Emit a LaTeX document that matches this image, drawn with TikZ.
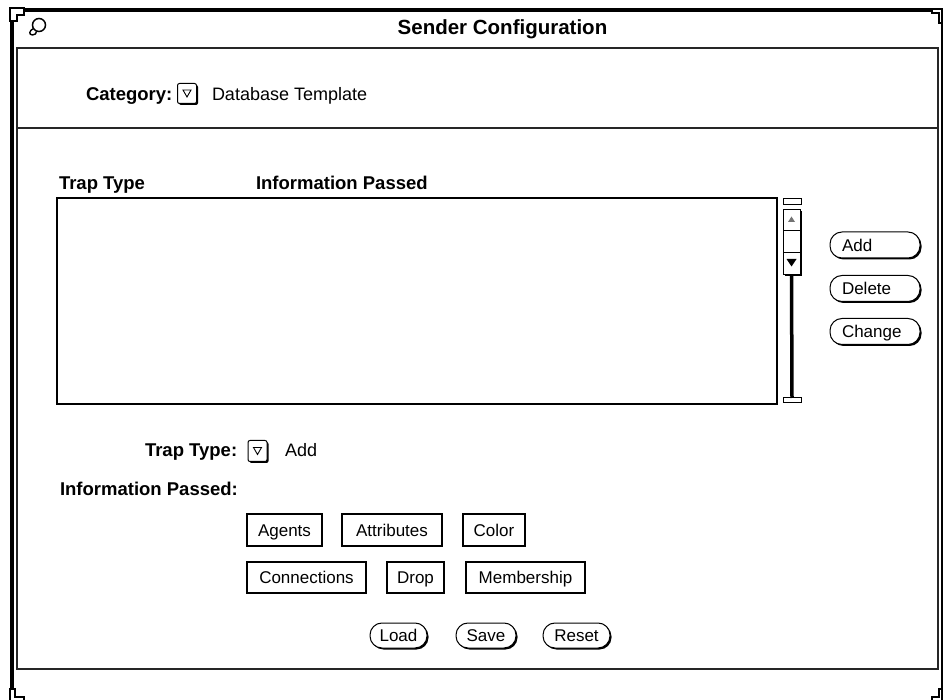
\documentclass[tikz,border=0pt]{standalone}
\usepackage{fontspec}
\setmainfont{Liberation Sans}
\usetikzlibrary{shadows,calc}

\begin{document}
\begin{tikzpicture}[x=1pt,y=-1pt,
  every node/.style={inner sep=0pt, outer sep=0pt},
  lbl/.style={anchor=base west, font=\fontsize{18.5}{20}\selectfont\bfseries},
  txt/.style={anchor=base west, font=\fontsize{18}{20}\selectfont},
  chip/.style={draw, line width=1.1pt, font=\fontsize{17}{20}\selectfont,
    text height=12.5pt, text depth=0pt},
  btnshadow/.style={general shadow={shadow xshift=1.5pt, shadow yshift=-1.5pt, fill=black}},
  pill/.style={draw, fill=white, line width=1pt, rounded corners=12pt,
    font=\fontsize{17}{20}\selectfont, text height=12.5pt, text depth=0pt, btnshadow},
  menubox/.style={draw, fill=white, line width=1pt, rounded corners=2pt,
    minimum width=19pt, minimum height=20pt, btnshadow},
  panelline/.style={line width=1.8pt, black!85},
  frameband/.style={line width=4pt},
  cornerpiece/.style={draw, fill=white, line width=1.3pt},
]
\useasboundingbox (0,0) rectangle (943,700);
\fill[white] (0,0) rectangle (943,700);

% window frame
\draw[frameband] (24,10) -- (932,10);
\draw[frameband] (12,21) -- (12,689);
\draw[line width=1.3pt] (942,23) -- (942,689);
\path[cornerpiece] (10,8) -- (24,8) -- (24,15) -- (17,15) -- (17,21) -- (10,21) -- cycle;
\path[cornerpiece] (932,9) -- (942,9) -- (942,23) -- (939,23) -- (939,13) -- (932,13) -- cycle;
\path[cornerpiece] (10,689) -- (15,689) -- (15,697) -- (24,697) -- (24,701) -- (10,701) -- cycle;
\path[cornerpiece] (942,689) -- (942,701) -- (932,701) -- (932,697) -- (939,697) -- (939,689) -- cycle;

% window menu glyph
\draw[line width=1.5pt] (39,25) circle (6.5);
\draw[line width=1.4pt] (33.5,28.5) .. controls (29,30.5) and (28.5,35) .. (32.5,35)
  .. controls (35,35) and (36.5,33.5) .. (36.5,31.5);

% title
\node[anchor=base, font=\fontsize{20.5}{22}\selectfont\bfseries] (title) at (502.5,35) {Sender Configuration};

% control panel
\draw[panelline] (17,48) rectangle (938,669);
\draw[panelline] (17,128) -- (938,128);

% category row
\node[lbl] (catlbl) at (86,101) {Category:};
\node[menubox] (catmenu) at (187,93.5) {};
\draw[line width=0.9pt] ($(catmenu.center)+(-4,-3.5)$) -- ($(catmenu.center)+(4,-3.5)$) -- ($(catmenu.center)+(0,3.5)$) -- cycle;
\node[txt] (catval) at (212,101) {Database Template};

% list headers and list
\node[lbl] (hdtrap) at (59,190) {Trap Type};
\node[lbl] (hdinfo) at (256,190) {Information Passed};
\node[draw, line width=1.2pt, minimum width=720pt, minimum height=206pt] (list) at (417,301) {};

% scrollbar
\node[draw, line width=1pt, minimum width=18pt, minimum height=6pt] (topcap) at (792,202) {};
\node[draw, fill=white, line width=1pt, minimum width=17pt, minimum height=65pt, btnshadow] (elev) at (791.5,242.5) {};
\draw[line width=1pt] ($(elev.north west)+(0,21)$) -- ($(elev.north east)+(0,21)$);
\draw[line width=1pt] ($(elev.north west)+(0,43)$) -- ($(elev.north east)+(0,43)$);
\fill[black!55] (788,222) -- (791.5,216.5) -- (795,222) -- cycle;
\fill (786.5,259) -- (796.5,259) -- (791.5,266.5) -- cycle;
\node[draw, line width=1pt, minimum width=18pt, minimum height=5pt] (botcap) at (792,400.5) {};
\draw[line width=3.5pt] (elev.south) -- (botcap.north);

% list buttons
\node[pill, minimum height=26pt, text width=66pt, align=left, inner xsep=12pt] (addbtn) at (875,245) {Add};
\node[pill, minimum height=26pt, text width=66pt, align=left, inner xsep=12pt] (delbtn) at (875,288.5) {Delete};
\node[pill, minimum height=26pt, text width=66pt, align=left, inner xsep=12pt] (chgbtn) at (875,331.5) {Change};

% trap type row
\node[lbl] (traplbl) at (145,457) {Trap Type:};
\node[menubox, minimum height=21pt] (trapmenu) at (257.5,451) {};
\draw[line width=0.9pt] ($(trapmenu.center)+(-4,-3.5)$) -- ($(trapmenu.center)+(4,-3.5)$) -- ($(trapmenu.center)+(0,3.5)$) -- cycle;
\node[txt] (trapval) at (285,457) {Add};

% information passed choices
\node[lbl] (infolbl) at (60,496) {Information Passed:};
\node[chip, minimum width=75pt, minimum height=32pt] (agents) at (284.5,530) {Agents};
\node[chip, minimum width=100pt, minimum height=32pt] (attrs) at (392,530) {Attributes};
\node[chip, minimum width=62pt, minimum height=32pt] (color) at (494,530) {Color};
\node[chip, minimum width=119pt, minimum height=31pt] (conns) at (306.5,577.5) {Connections};
\node[chip, minimum width=57pt, minimum height=31pt] (drop) at (415.5,577.5) {Drop};
\node[chip, minimum width=119pt, minimum height=31pt] (member) at (525.5,577.5) {Membership};

% bottom buttons
\node[pill, minimum width=57pt, minimum height=25pt] (load) at (398.5,635.5) {Load};
\node[pill, minimum width=60pt, minimum height=25pt] (save) at (486,635.5) {Save};
\node[pill, minimum width=67pt, minimum height=25pt] (reset) at (576.5,635.5) {Reset};
\end{tikzpicture}
\end{document}
